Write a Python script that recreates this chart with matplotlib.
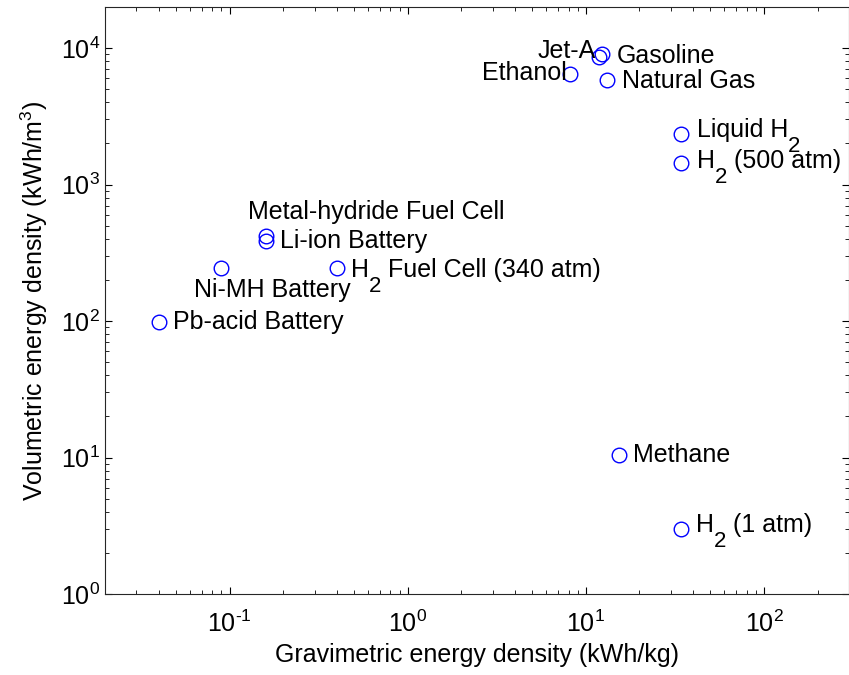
import numpy as np
import matplotlib
matplotlib.use("Agg")
import matplotlib.pyplot as plt
from matplotlib.ticker import FuncFormatter

plt.rcParams['font.family'] = ['Liberation Sans', 'DejaVu Sans']
plt.rcParams['mathtext.fontset'] = 'custom'
plt.rcParams['mathtext.rm'] = 'Liberation Sans'
plt.rcParams['mathtext.it'] = 'Liberation Sans'
plt.rcParams['mathtext.default'] = 'regular'
plt.rcParams['axes.unicode_minus'] = False

FS = 18

# Energy densities of storage media ('_2' marks a subscript)
names = ['Jet-A', 'Gasoline', 'Ethanol', 'Natural Gas', 'Liquid H_2',
         'H_2 (500 atm)', 'Metal-hydride Fuel Cell', 'Li-ion Battery',
         'Ni-MH Battery', 'H_2 Fuel Cell (340 atm)', 'Pb-acid Battery',
         'Methane', 'H_2 (1 atm)']
grav = [11.8, 12.4, 8.2, 13.1, 34.0, 34.0, 0.16, 0.16, 0.09, 0.4, 0.04, 15.4, 34.0]   # kWh/kg
vol = [8600, 9000, 6500, 5800, 2360, 1450, 420, 385, 245, 245, 98, 10.5, 3.0]      # kWh/m3

# label offsets (pixels, from marker centre) and alignment
offs = [(-3, 6), (14, -2), (-4, 1), (15, -1), (16, 4), (16, 2), (-18, 24), (14, 0),
        (-27, -22), (14, -2), (14, 0), (14, 0), (15, 4)]
has = ['right', 'left', 'right', 'left', 'left', 'left', 'left', 'left',
       'left', 'left', 'left', 'left', 'left']


def label(ax, text, x, y, off, ha):
    if '_' not in text:
        ax.annotate(text, (x, y), xytext=off, textcoords='offset pixels',
                    ha=ha, va='center', fontsize=FS)
        return
    # TeX-like subscript: the digit dropped below the baseline
    pre, rest = text.split('_', 1)
    sub, post = rest[0], rest[1:]
    t1 = ax.annotate(pre, (x, y), xytext=off, textcoords='offset pixels',
                     ha='left', va='center', fontsize=FS)
    t2 = ax.annotate(sub, xy=(1, 0), xycoords=t1, xytext=(0, -10),
                     textcoords='offset pixels', ha='left', va='baseline', fontsize=FS - 2)
    if post:
        ax.annotate(post, xy=(1, 0), xycoords=(t2, t1), ha='left', va='bottom',
                    fontsize=FS)


def pow10(v, pos):
    e = int(round(np.log10(v)))
    return '$10^{%s}$' % str(e).replace('-', '\u2010')


fig = plt.figure(figsize=(8.49, 6.75), dpi=100)
ax = fig.add_axes([105/849, 81/675, 744/849, 587/675])

ax.plot(grav, vol, 'o', mfc='none', mec='blue', ms=10.5, mew=1.0)
for n, gx, vy, o, h in zip(names, grav, vol, offs, has):
    label(ax, n, gx, vy, o, h)

ax.set_xscale('log')
ax.set_yscale('log')
ax.set_xlim(0.02, 300)
ax.set_ylim(1, 2e4)
ax.xaxis.set_major_formatter(FuncFormatter(pow10))
ax.yaxis.set_major_formatter(FuncFormatter(pow10))
ax.set_xlabel('Gravimetric energy density (kWh/kg)', fontsize=FS)
ax.set_ylabel('Volumetric energy density (kWh/m$^3$)', fontsize=FS, labelpad=8)
ax.tick_params(which='both', direction='in', top=True, right=True, labelsize=FS)
ax.tick_params(axis='x', which='major', pad=12)
ax.tick_params(which='major', length=5)
ax.tick_params(which='minor', length=3)
for s in ax.spines.values():
    s.set_color('#262626')

fig.savefig('out.png', dpi=100)
